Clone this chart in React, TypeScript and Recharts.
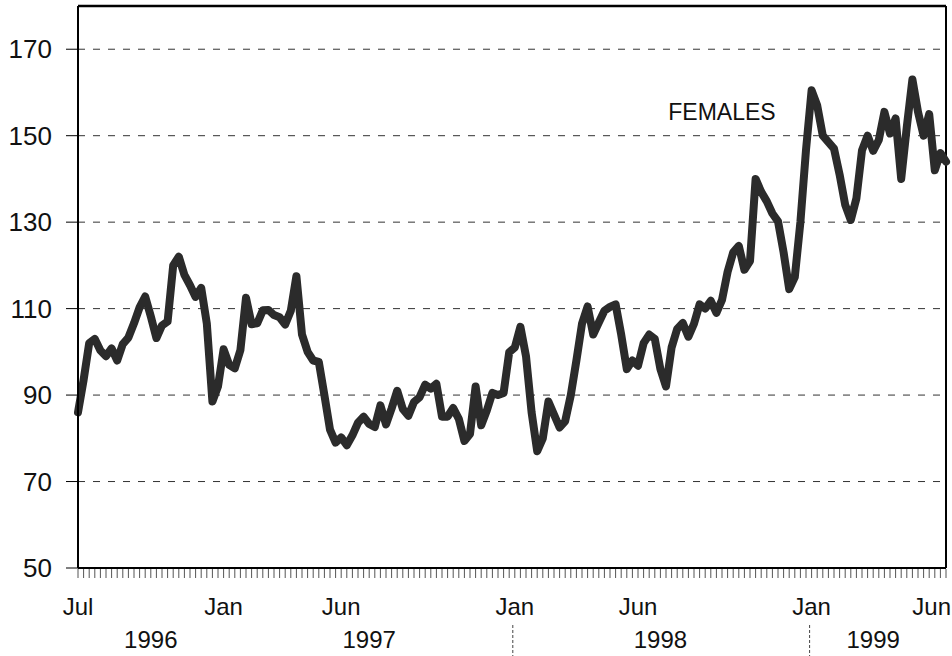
import React from 'react';
import { LineChart, Line, XAxis, YAxis, CartesianGrid, ReferenceLine, ReferenceDot } from 'recharts';

// Weekly values, Jul 1996 .. Jun 1999
const femalesValues: number[] = [
  86, 93.5, 102, 103, 100.3, 99, 100.8, 98, 101.8, 103.3,
  106.6, 110.3, 112.8, 108.2, 103.2, 106.1, 107, 120, 122, 117.8,
  115.4, 112.7, 114.8, 106.6, 88.5, 92, 100.6, 97, 96.2, 100.4,
  112.5, 106.4, 106.6, 109.6, 109.7, 108.5, 108, 106.3, 109.5, 117.5,
  104, 100, 98, 97.7, 90, 82, 79, 80.2, 78.4, 80.7,
  83.6, 85, 83.3, 82.6, 87.6, 83.2, 86.9, 91, 86.8, 85.2,
  88.4, 89.5, 92.4, 91.5, 92.6, 85, 85, 87, 84.5, 79.4,
  81, 92, 83, 86.4, 90.5, 90, 90.5, 99.9, 101, 105.8,
  99, 86, 77, 80, 88.5, 85.5, 82.5, 84, 90, 98,
  106.5, 110.5, 104, 106.8, 109.5, 110.4, 111, 104, 96, 98,
  96.8, 102, 104, 103, 96, 92, 101, 105.3, 106.7, 103.5,
  106.5, 111, 110, 111.8, 109, 112, 118.5, 123, 124.5, 119,
  121, 140, 137, 134.8, 132, 130.2, 123, 114.5, 117.3, 130,
  146.7, 160.5, 157, 150, 148.5, 147, 141, 134, 130.5, 135.5,
  146.6, 150, 146.5, 149, 155.5, 150.5, 154, 140, 152, 163,
  155.5, 150, 155, 142, 146, 144,
];

const monthTickWeeks: number[] = [0, 26, 47, 78, 100, 131, 153];
const monthTickLabels: string[] = ['Jul', 'Jan', 'Jun', 'Jan', 'Jun', 'Jan', 'Jun'];
const yearCenterWeeks: number[] = [13, 52, 104, 142];
const yearLabels: string[] = ['1996', '1997', '1998', '1999'];
const yearSeparatorWeeks: number[] = [78, 131];
const yTicks: number[] = [50, 70, 90, 110, 130, 150, 170];
const seriesLabel = 'FEMALES';

const data = femalesValues.map((v, i) => ({ week: i, females: v }));
const allWeeks = femalesValues.map((_, i) => i);

const FONT = "'Liberation Sans', Arial, sans-serif";
const CHART_W = 952;

const XTick = (props: any) => {
  const { x, y, payload } = props;
  const w = payload.value as number;
  const mIdx = monthTickWeeks.indexOf(w);
  const yIdx = yearCenterWeeks.indexOf(w);
  const sep = yearSeparatorWeeks.indexOf(w) >= 0;
  const isLastMonth = mIdx === monthTickWeeks.length - 1;
  return (
    <g>
      <line x1={x} y1={y + 1} x2={x} y2={y + 10} stroke="#555" strokeWidth={1} />
      {mIdx >= 0 && (
        <text
          x={isLastMonth ? CHART_W - 1 : x}
          y={y + 47}
          textAnchor={isLastMonth ? 'end' : 'middle'}
          fontSize={24}
          fontFamily={FONT}
          fill="#111"
        >
          {monthTickLabels[mIdx]}
        </text>
      )}
      {yIdx >= 0 && (
        <text x={x} y={y + 80} textAnchor="middle" fontSize={24} fontFamily={FONT} fill="#111">
          {yearLabels[yIdx]}
        </text>
      )}
      {sep && (
        <line x1={x - 2} y1={y + 57} x2={x - 2} y2={y + 88} stroke="#444" strokeWidth={1} strokeDasharray="3 2" />
      )}
    </g>
  );
};

export default function App() {
  return (
    <div style={{ position: 'absolute', left: 0, top: 0, width: 952, height: 656, background: '#fff' }}>
      <LineChart width={CHART_W} height={656} data={data} margin={{ top: 6, right: 6, bottom: 0, left: 0 }}>
        <CartesianGrid vertical={false} stroke="#333" strokeDasharray="7 8" />
        <XAxis
          dataKey="week"
          type="number"
          domain={[0, 155]}
          ticks={allWeeks}
          interval={0}
          height={88}
          tickSize={0}
          tickMargin={0}
          tickLine={false}
          tick={<XTick />}
          axisLine={{ stroke: '#000', strokeWidth: 2 }}
        />
        <YAxis
          domain={[50, 180]}
          ticks={yTicks}
          interval={0}
          width={78}
          tickSize={12}
          tickMargin={14}
          tickLine={{ stroke: '#000', strokeWidth: 1 }}
          axisLine={{ stroke: '#000', strokeWidth: 2 }}
          tick={{ fill: '#111', fontSize: 26, fontFamily: FONT }}
        />
        <ReferenceLine y={180} stroke="#000" strokeWidth={2.5} ifOverflow="visible" />
        <ReferenceLine x={155} stroke="#000" strokeWidth={2} ifOverflow="visible" />
        <Line
          type="linear"
          dataKey="females"
          stroke="#2b2b2b"
          strokeWidth={8}
          strokeLinejoin="round"
          strokeLinecap="round"
          dot={false}
          isAnimationActive={false}
        />
        <ReferenceDot
          x={115}
          y={155.5}
          r={0}
          fill="none"
          stroke="none"
          ifOverflow="visible"
          label={{ value: seriesLabel, position: 'center', fontSize: 23, fontFamily: FONT, fill: '#111' }}
        />
      </LineChart>
    </div>
  );
}
